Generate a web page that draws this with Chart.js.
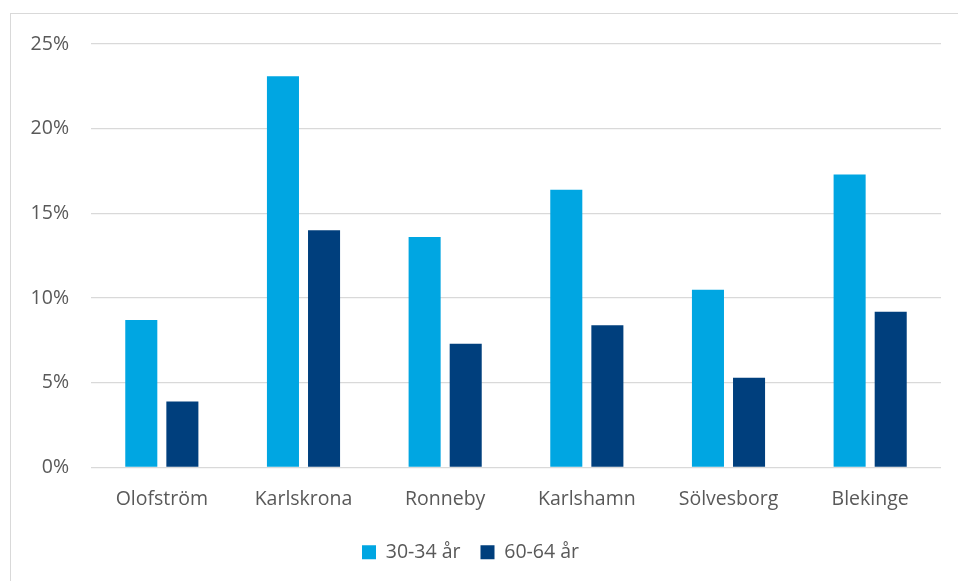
<!DOCTYPE html>
<html>
<head>
<meta charset="utf-8">
<script src="https://cdn.jsdelivr.net/npm/chart.js@4/dist/chart.umd.min.js"></script>
<style>
  html, body { margin: 0; padding: 0; background: #ffffff; }
  #wrap { position: relative; width: 958px; height: 581px; overflow: hidden; }
  #frame { position: absolute; left: 10px; top: 13px; width: 1000px; height: 700px; border: 1.5px solid #d9d9d9; box-sizing: border-box; }
  canvas { position: absolute; left: 0; top: 0; }
</style>
</head>
<body>
<div id="wrap">
  <div id="frame"></div>
  <canvas id="c" width="958" height="581"></canvas>
</div>
<script>
const categories = ["Olofström", "Karlskrona", "Ronneby", "Karlshamn", "Sölvesborg", "Blekinge"];
const seriesNames = ["30-34 år", "60-64 år"];
const young = [8.7, 23.1, 13.6, 16.4, 10.5, 17.3];
const old = [3.9, 14.0, 7.3, 8.4, 5.3, 9.2];
const yTicks = [0, 5, 10, 15, 20, 25];

const font = "'Open Sans', 'Noto Sans', sans-serif";

new Chart(document.getElementById('c'), {
  type: 'bar',
  data: {
    labels: categories,
    datasets: [
      { label: seriesNames[0], data: young, backgroundColor: '#00A6E2', categoryPercentage: 0.58, barPercentage: 0.78 },
      { label: seriesNames[1], data: old, backgroundColor: '#003F7D', categoryPercentage: 0.58, barPercentage: 0.78 }
    ]
  },
  options: {
    responsive: false,
    animation: false,
    devicePixelRatio: 1,
    layout: { padding: { left: 0, right: 17, top: 44, bottom: 9 } },
    plugins: {
      tooltip: { enabled: false },
      legend: {
        position: 'bottom',
        labels: {
          boxWidth: 14, boxHeight: 14, padding: 20,
          color: '#595959',
          font: { family: font, size: 19.5 }
        }
      }
    },
    scales: {
      x: {
        grid: { display: false },
        border: { display: false },
        ticks: { color: '#595959', font: { family: font, size: 19.5 }, padding: 12, maxRotation: 0 },
        afterFit: s => { s.height = 55; }
      },
      y: {
        min: 0, max: 25,
        afterBuildTicks: s => { s.ticks = yTicks.map(v => ({ value: v })); },
        afterFit: s => { s.width = 91; },
        grid: { color: '#d9d9d9', lineWidth: 1.3, drawTicks: false },
        border: { display: false },
        ticks: { color: '#595959', font: { family: font, size: 19.5 }, padding: 22, callback: v => v + '%' }
      }
    }
  }
});
</script>
</body>
</html>
